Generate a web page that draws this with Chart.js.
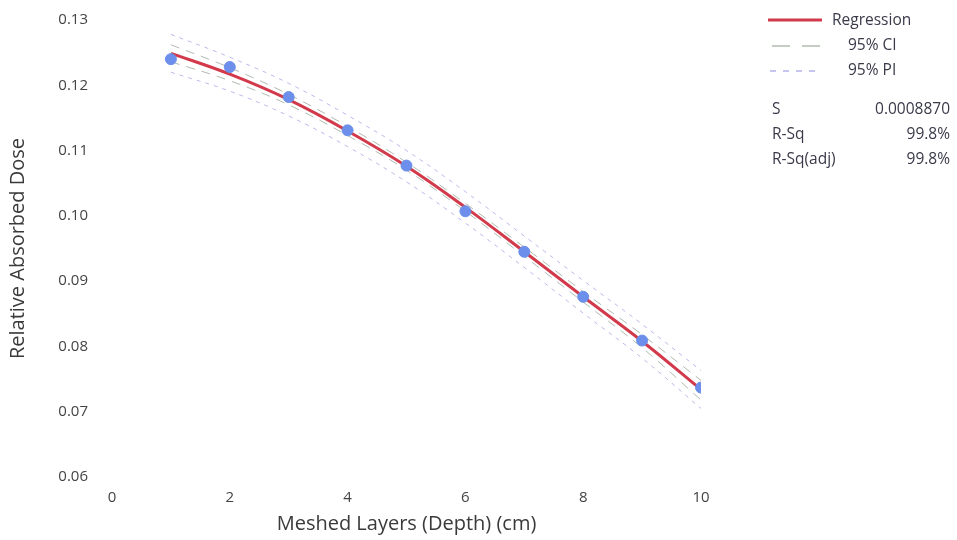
<!DOCTYPE html>
<html><head><meta charset="utf-8">
<script src="https://cdn.jsdelivr.net/npm/chart.js@4.4.1/dist/chart.umd.min.js"></script>
<style>
html,body{margin:0;padding:0;background:#fff;}
#wrap{position:relative;width:957px;height:540px;}
#legend{position:absolute;left:766px;top:7px;width:184px;font-family:"Open Sans",sans-serif;font-size:15.5px;color:#3a3a4a;}
.row{position:relative;height:25px;}
.sw{position:absolute;left:2px;top:12px;}
.lab{position:absolute;top:1px;}
.st{position:relative;height:25px;}
.st .k{position:absolute;left:6px;top:0;}
.st .v{position:absolute;right:0px;top:0;}
</style></head>
<body><div id="wrap"><canvas id="c" width="957" height="540"></canvas>
<div id="legend">
 <div class="row"><svg class="sw" width="56" height="4" style="top:11px"><line x1="0" y1="2" x2="54" y2="2" stroke="#d23a4c" stroke-width="3"/></svg><div class="lab" style="left:66px">Regression</div></div>
 <div class="row"><svg class="sw" width="56" height="4"><line x1="4" y1="2" x2="52" y2="2" stroke="#8a9a8a" stroke-width="1" stroke-dasharray="18,12"/></svg><div class="lab" style="left:82px">95% CI</div></div>
 <div class="row"><svg class="sw" width="56" height="4"><line x1="2" y1="2" x2="54" y2="2" stroke="#8c8cdc" stroke-width="1" stroke-dasharray="6,7"/></svg><div class="lab" style="left:82px">95% PI</div></div>
 <div style="height:15px"></div>
 <div class="st"><span class="k">S</span><span class="v">0.0008870</span></div>
 <div class="st"><span class="k">R-Sq</span><span class="v">99.8%</span></div>
 <div class="st"><span class="k">R-Sq(adj)</span><span class="v">99.8%</span></div>
</div></div>
<script>
const depth = [1,2,3,4,5,6,7,8,9,10];
const observed = [0.1240,0.1228,0.1182,0.1131,0.1077,0.1007,0.0945,0.0876,0.0809,0.0737];
const regression = [0.1249,0.1217,0.1178,0.1130,0.1076,0.1013,0.0945,0.0876,0.0808,0.0734];
const ciUpper = [0.1262,0.1227,0.1186,0.1137,0.1082,0.1019,0.0952,0.0884,0.0818,0.0748];
const ciLower = [0.1236,0.1207,0.1170,0.1123,0.1070,0.1007,0.0938,0.0868,0.0798,0.0718];
const piUpper = [0.1278,0.1243,0.1203,0.1154,0.1100,0.1037,0.0969,0.0901,0.0834,0.0763];
const piLower = [0.1220,0.1191,0.1153,0.1106,0.1052,0.0989,0.0921,0.0851,0.0782,0.0705];
const xTicks = [0,2,4,6,8,10];
const yTicks = [0.06,0.07,0.08,0.09,0.10,0.11,0.12,0.13];

const pts = arr => depth.map((x,i)=>({x:x,y:arr[i]}));
const lineDs = (label, arr, color, width, dash) => ({
  type:'line', label, data:pts(arr), borderColor:color, borderWidth:width,
  borderDash:dash, pointRadius:0, tension:0.4, fill:false
});

new Chart(document.getElementById('c'), {
  type:'scatter',
  data:{datasets:[
    {type:'scatter', label:'Observed', data:pts(observed), backgroundColor:'#6b8fea', borderColor:'#6b8fea', pointRadius:5.5, order:0},
    Object.assign(lineDs('Regression', regression, '#d23a4c', 3, []), {order:1}),
    Object.assign(lineDs('95% CI upper', ciUpper, 'rgba(110,130,110,0.55)', 1, [9,7]), {order:2}),
    Object.assign(lineDs('95% CI lower', ciLower, 'rgba(110,130,110,0.55)', 1, [9,7]), {order:2}),
    Object.assign(lineDs('95% PI upper', piUpper, 'rgba(130,130,220,0.55)', 1, [4,5]), {order:3}),
    Object.assign(lineDs('95% PI lower', piLower, 'rgba(130,130,220,0.55)', 1, [4,5]), {order:3})
  ]},
  options:{
    responsive:false, animation:false,
    layout:{padding:{left:0,right:256,top:20,bottom:0}},
    plugins:{legend:{display:false}, tooltip:{enabled:false}},
    scales:{
      x:{type:'linear', min:0, max:10,
        grid:{display:false}, border:{display:false},
        afterBuildTicks:s=>{s.ticks = xTicks.map(v=>({value:v}));},
        ticks:{color:'#444', font:{family:'Open Sans', size:15}, padding:4, callback:v=>String(v)},
        title:{display:true, text:'Meshed Layers (Depth) (cm)', color:'#3a3a3a', font:{family:'Open Sans', size:20}, padding:{top:8}},
        afterFit:s=>{s.height = 63;}
      },
      y:{type:'linear', min:0.06, max:0.13,
        grid:{display:true, drawOnChartArea:false, drawTicks:true, tickLength:21, color:'rgba(0,0,0,0)'},
        border:{display:false},
        afterBuildTicks:s=>{s.ticks = yTicks.map(v=>({value:v}));},
        ticks:{color:'#444', font:{family:'Open Sans', size:15}, padding:3, callback:v=>v.toFixed(2)},
        title:{display:true, text:'Relative Absorbed Dose', color:'#3a3a3a', font:{family:'Open Sans', size:20}, padding:{top:6,bottom:4}},
        afterFit:s=>{s.width = 112;}
      }
    }
  }
});
</script></body></html>
